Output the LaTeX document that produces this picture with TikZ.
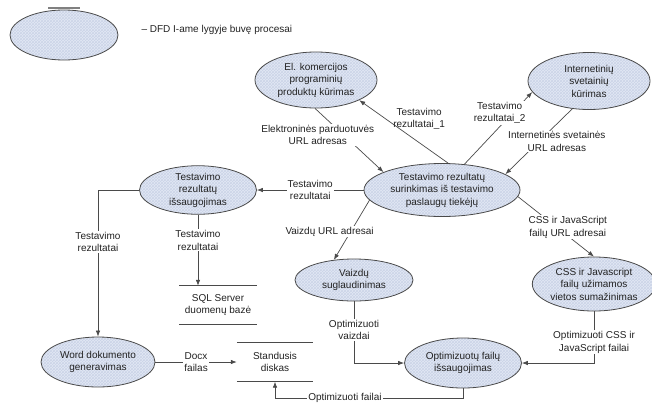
\documentclass[tikz,border=0pt]{standalone}
\usepackage{fontspec}
\setmainfont{Liberation Sans}
\usepackage{tikz}
\usetikzlibrary{arrows.meta,shapes.geometric,patterns}
\definecolor{dfdline}{HTML}{4A4A4A}
\definecolor{dfdfill}{HTML}{E2E8F4}
\definecolor{dfdhatch}{HTML}{CBD4E8}
\definecolor{dfdtext}{HTML}{222222}
\newcommand\dfdfont{\fontsize{10}{12.5}\selectfont}
\tikzset{
  procnode/.style={
    ellipse,
    draw=dfdline,
    line width=0.8pt,
    preaction={fill=dfdfill},
    pattern=crosshatch,
    pattern color=dfdhatch,
    inner sep=0pt,
    align=center,
    text=dfdtext,
    font=\dfdfont
  },
  storenode/.style={
    minimum width=77pt,
    minimum height=38pt,
    inner sep=0pt,
    align=center,
    text=dfdtext,
    font=\dfdfont
  },
  storeline/.style={
    draw=dfdline,
    line width=0.8pt
  },
  edgelabel/.style={
    fill=white,
    inner sep=1pt,
    align=center,
    text=dfdtext,
    font=\dfdfont
  },
  flow/.style={
    -{Latex[length=6pt,width=4.5pt]},
    draw=dfdline,
    line width=0.7pt
  }
}
\begin{document}
\begin{tikzpicture}[x=1pt,y=-1pt]
\useasboundingbox (0,0) rectangle (652,405);
\node[procnode, minimum width=108pt, minimum height=50pt] (legend) at (64,35) {};
\draw[line width=2pt, draw=gray] ([xshift=-16pt,yshift=2pt]legend.north) -- ([xshift=16pt,yshift=2pt]legend.north);
\node[anchor=west, font=\dfdfont, text=dfdtext] (legendtext) at (138,30) {– DFD I-ame lygyje buvę procesai};
\node[procnode, minimum width=122pt, minimum height=56pt] (elk) at (316,80) {El. komercijos\\programinių\\produktų kūrimas};
\node[procnode, minimum width=122pt, minimum height=57pt] (inet) at (589,81) {Internetinių\\svetainių\\kūrimas};
\node[procnode, minimum width=156pt, minimum height=53pt] (cent) at (442,190) {Testavimo rezultatų\\surinkimas iš testavimo\\paslaugų tiekėjų};
\node[procnode, minimum width=117pt, minimum height=46pt] (isaug) at (198,190) {Testavimo\\rezultatų\\išsaugojimas};
\node[procnode, minimum width=118pt, minimum height=42pt] (vaiz) at (354,280) {Vaizdų\\suglaudinimas};
\node[procnode, minimum width=118pt, minimum height=54pt] (css) at (594,284) {CSS ir Javascript\\failų užimamos\\vietos sumažinimas};
\node[procnode, minimum width=114pt, minimum height=50pt] (word) at (98,362) {Word dokumento\\generavimas};
\node[procnode, minimum width=117pt, minimum height=50pt] (opt) at (463,363) {Optimizuotų failų\\išsaugojimas};
\node[storenode] (sql) at (218,305) {SQL Server\\duomenų bazė};
\node[storenode, minimum width=76pt, minimum height=39pt] (disk) at (275,362) {Standusis\\diskas};
\draw[storeline] (sql.north west) -- (sql.north east) (sql.south west) -- (sql.south east);
\draw[storeline] (disk.north west) -- (disk.north east) (disk.south west) -- (disk.south east);
\draw[flow] (cent.77) -- node[edgelabel, fill=none, pos=0.7, right=6pt] {Testavimo\\rezultatai\_1} (elk.-25);
\draw[flow] (elk.-92) -- node[edgelabel, pos=0.42, xshift=-26pt] {Elektroninės parduotuvės\\URL adresas} (cent.163);
\draw[flow] (cent.49) -- node[edgelabel, pos=0.52, yshift=14pt] {Testavimo\\rezultatai\_2} (inet.-169);
\draw[flow] (inet.-121) -- node[edgelabel, pos=0.5, xshift=18pt] {Internetinės svetainės\\URL adresas} (cent.14);
\draw[flow] (cent.west) -- node[edgelabel] {Testavimo\\rezultatai} (isaug.east);
\draw[flow] (isaug.south) -- node[edgelabel, pos=0.36] {Testavimo\\rezultatai} (isaug.south |- sql.north);
\draw[flow] (isaug.west) -| node[edgelabel, pos=0.677] {Testavimo\\rezultatai} (word.north);
\draw[flow] (cent.188) -- node[edgelabel, pos=0.53, xshift=-21pt] {Vaizdų URL adresai} (vaiz.135);
\draw[flow] (cent.-5) -- node[edgelabel, pos=0.51, xshift=11pt] {CSS ir JavaScript\\failų URL adresai} (css.north);
\draw[flow] (vaiz.south) |- node[edgelabel, pos=0.23] {Optimizuoti\\vaizdai} (opt.west);
\draw[flow] (css.south) |- node[edgelabel, pos=0.3] {Optimizuoti CSS ir\\JavaScript failai} (opt.east);
\draw[flow] (word.east) -- node[edgelabel] {Docx\\failas} (disk.west);
\draw[flow] (opt.south) -- ++(0,10) -| node[edgelabel, pos=0.314] {Optimizuoti failai} (disk.south);
\end{tikzpicture}
\end{document}
